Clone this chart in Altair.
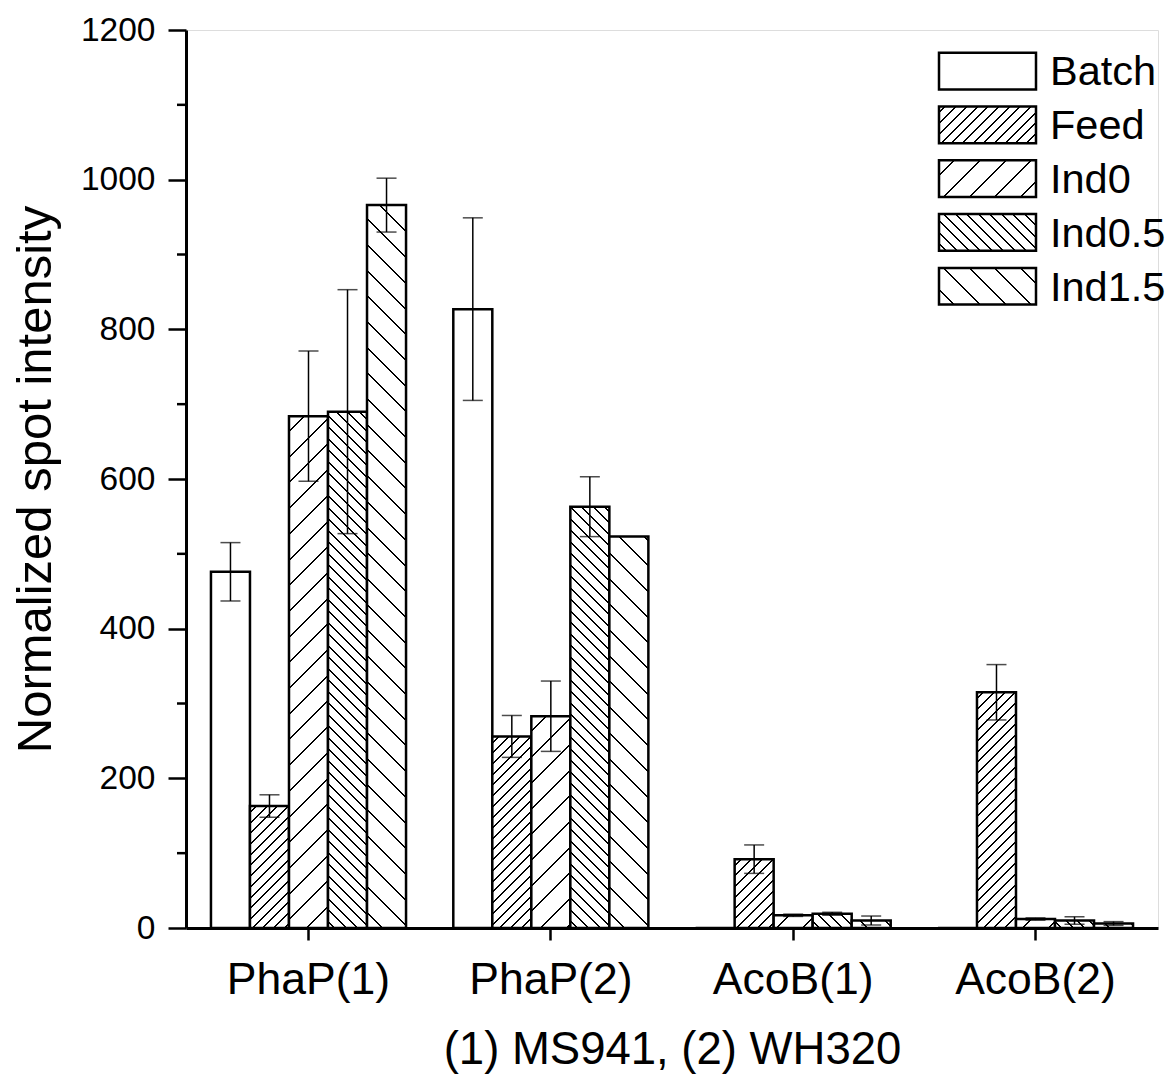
import math
import altair as alt

# ---------------- data ----------------
groups = ["PhaP(1)", "PhaP(2)", "AcoB(1)", "AcoB(2)"]
series = ["Batch", "Feed", "Ind0", "Ind0.5", "Ind1.5"]

batch_vals = [476, 827, 0, 0]
feed_vals = [163, 256, 92, 315]
ind0_vals = [684, 283, 17, 12]
ind05_vals = [690, 563, 19, 10]
ind15_vals = [966, 523, 10, 6]

batch_err = [39, 122, 0, 0]
feed_err = [15, 28, 19, 37]
ind0_err = [87, 47, 1.5, 1.5]
ind05_err = [163, 40, 2, 5]
ind15_err = [36, 0, 6, 2.5]

y_major = [0, 200, 400, 600, 800, 1000, 1200]
y_minor = [100, 300, 500, 700, 900, 1100]

values = [batch_vals, feed_vals, ind0_vals, ind05_vals, ind15_vals]
errors = [batch_err, feed_err, ind0_err, ind05_err, ind15_err]

# ---------------- layout / style ----------------
W, H = 972, 898
YMAX = 1200
P_INNER, P_OUTER = 0.195, 0.103
FONT = "Liberation Sans"
step = W / (len(groups) - P_INNER + 2 * P_OUTER)
bar_w = step * (1 - P_INNER) / len(series)

# hatch style per series: (direction, spacing along x+y in px) ; None = plain
hatch_style = {
    "Batch": None,
    "Feed": ("/", 10.7),
    "Ind0": ("/", 25.7),
    "Ind0.5": ("\\", 11.5),
    "Ind1.5": ("\\", 25.7),
}
LINE_W = 2.0  # thickness measured along the x+y axis


def hatch_fill(w, h, style):
    if style is None or h <= 0:
        return "#ffffff"
    direction, s = style
    L = w + h
    a = w * L / (w * w + h * h)
    b = h * L / (w * w + h * h)
    if direction == "/":
        x1, y1, x2, y2 = 0, 0, a, b
    else:
        x1, y1, x2, y2 = 0, 1, a, 1 - b
    stops = [{"offset": 0, "color": "#ffffff"}]
    c = s * 0.6
    while c - LINE_W / 2 < L:
        o0 = max(0.0, (c - LINE_W / 2) / L)
        o1 = min(1.0, (c + LINE_W / 2) / L)
        stops += [
            {"offset": o0, "color": "#ffffff"},
            {"offset": o0, "color": "#000000"},
            {"offset": o1, "color": "#000000"},
            {"offset": o1, "color": "#ffffff"},
        ]
        c += s
    stops.append({"offset": 1, "color": "#ffffff"})
    return {"gradient": "linear", "x1": x1, "y1": y1, "x2": x2, "y2": y2, "stops": stops}


rows = []
err_rows = []
for si, s in enumerate(series):
    for gi, g in enumerate(groups):
        v = values[si][gi]
        e = errors[si][gi]
        h = v / YMAX * H
        rows.append({"group": g, "series": s, "value": v,
                     "fill": hatch_fill(bar_w, h, hatch_style[s])})
        if e > 0:
            err_rows.append({"group": g, "series": s, "lo": v - e, "hi": v + e})

bar_data = alt.Data(values=rows)
err_data = alt.Data(values=err_rows)

x_enc = alt.X("group:N", sort=groups,
              scale=alt.Scale(paddingInner=P_INNER, paddingOuter=P_OUTER),
              axis=alt.Axis(title="(1) MS941, (2) WH320", labelAngle=0,
                            labelFontSize=44.5, labelPadding=18, tickSize=12,
                            tickWidth=2.5, domainWidth=3, titleFontSize=45.5,
                            titlePadding=26, titleFontWeight="normal",
                            labelFont=FONT, titleFont=FONT,
                            domainColor="black", tickColor="black",
                            labelColor="black", titleColor="black"))
xoff = alt.XOffset("series:N", sort=series,
                   scale=alt.Scale(paddingInner=0, paddingOuter=0))
y_scale = alt.Scale(domain=[0, YMAX], nice=False)

bars = alt.Chart(bar_data).mark_bar(stroke="black", strokeWidth=2.5).encode(
    x=x_enc,
    xOffset=xoff,
    y=alt.Y("value:Q", scale=y_scale,
            axis=alt.Axis(title="Normalized spot intensity", values=y_major,
                          format="d",
                          tickSize=18, tickWidth=2.5, domainWidth=3,
                          labelFontSize=33.5, labelPadding=13, titleFontSize=49,
                          titlePadding=20, titleFontWeight="normal", grid=False,
                          labelFont=FONT, titleFont=FONT,
                          domainColor="black", tickColor="black",
                          labelColor="black", titleColor="black")),
    fill=alt.Fill("fill:N", scale=None, legend=None),
)

err_rule = alt.Chart(err_data).mark_rule(color="black", strokeWidth=1.5).encode(
    x=alt.X("group:N", sort=groups), xOffset=alt.XOffset("series:N", sort=series),
    y=alt.Y("lo:Q"), y2="hi:Q")
cap_lo = alt.Chart(err_data).mark_tick(color="black", thickness=1.5, size=20,
                                        orient="horizontal").encode(
    x=alt.X("group:N", sort=groups), xOffset=alt.XOffset("series:N", sort=series),
    y=alt.Y("lo:Q"))
cap_hi = alt.Chart(err_data).mark_tick(color="black", thickness=1.5, size=20,
                                        orient="horizontal").encode(
    x=alt.X("group:N", sort=groups), xOffset=alt.XOffset("series:N", sort=series),
    y=alt.Y("hi:Q"))

minor = alt.Chart(alt.Data(values=[{"t": t} for t in y_minor])).mark_rule(
    color="black", strokeWidth=2.5).encode(
    y=alt.Y("t:Q"), x=alt.value(-9), x2=alt.value(0))

# ---------------- legend ----------------
LEG_X0, LEG_X1 = 753, 850
LEG_TOP0, LEG_STEP, LEG_H = 22.7, 53.8, 36.7
legend_layers = []
for i, s in enumerate(series):
    top = LEG_TOP0 + i * LEG_STEP
    fill = hatch_fill(LEG_X1 - LEG_X0, LEG_H, hatch_style[s])
    sw = alt.Chart(alt.Data(values=[{"k": s}])).mark_rect(
        stroke="black", strokeWidth=2.5, fill=fill).encode(
        x=alt.value(LEG_X0), x2=alt.value(LEG_X1),
        y=alt.value(top), y2=alt.value(top + LEG_H))
    tx = alt.Chart(alt.Data(values=[{"k": s}])).mark_text(
        align="left", baseline="alphabetic", fontSize=41.5, font=FONT,
        color="black").encode(
        text="k:N", x=alt.value(864), y=alt.value(top + LEG_H - 4))
    legend_layers += [sw, tx]

chart = alt.layer(bars, err_rule, cap_lo, cap_hi, minor, *legend_layers).properties(
    width=W, height=H,
    autosize=alt.AutoSizeParams(type="none"),
    padding={"left": 178, "top": 22, "right": 8, "bottom": 146},
).configure_view(stroke=None).configure(background="white")

chart.save("out.html", embed_options={"renderer": "svg", "actions": False})
